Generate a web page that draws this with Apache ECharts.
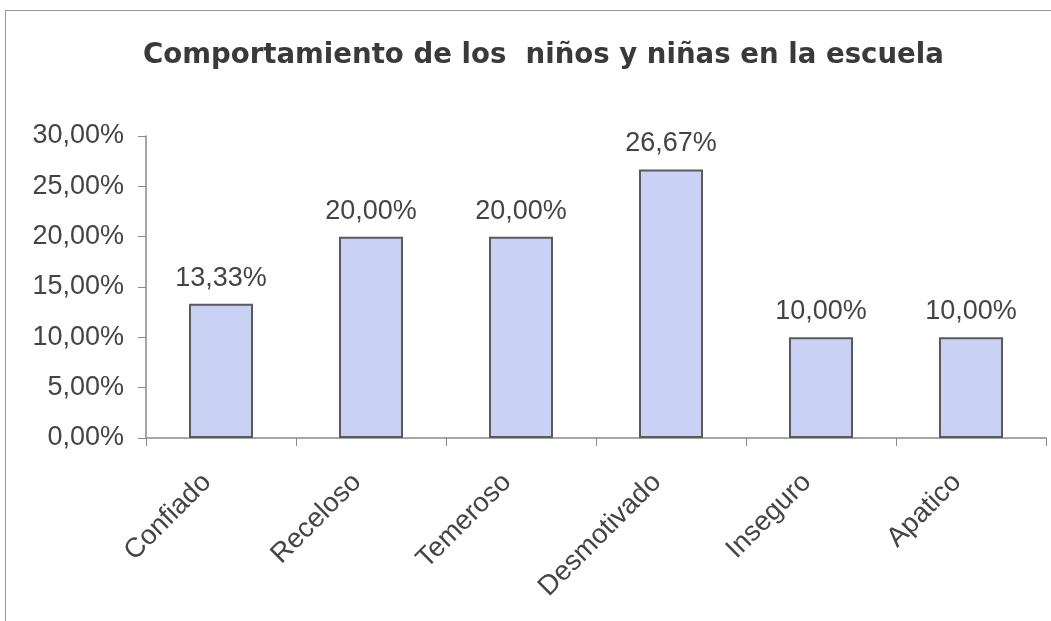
<!DOCTYPE html>
<html>
<head>
<meta charset="utf-8">
<script src="https://cdn.jsdelivr.net/npm/echarts@6/dist/echarts.min.js"></script>
<style>
  html, body { margin: 0; padding: 0; background: #fff; }
  #frame { position: absolute; left: 5px; top: 10px; width: 1100px; height: 700px; border: 1px solid #9a9a9a; }
  #chart { position: absolute; left: 0; top: 0; width: 1051px; height: 621px; }
</style>
</head>
<body>
<div id="frame"></div>
<div id="chart"></div>
<script>
// categorias y porcentajes
const categorias = ['Confiado', 'Receloso', 'Temeroso', 'Desmotivado', 'Inseguro', 'Apatico']
const porcentajes = [13.33, 20.0, 20.0, 26.67, 10.0, 10.0]

const fmt = (v) => v.toFixed(2).replace('.', ',') + '%'

const myChart = echarts.init(document.getElementById('chart'))

const options = {
  animation: false,
  title: {
    text: 'Comportamiento de los  niños y niñas en la escuela',
    left: 138,
    top: 37,
    textStyle: {
      fontFamily: 'DejaVu Sans',
      fontSize: 27.6,
      fontWeight: 'bold',
      color: '#3a3a3a',
    },
  },
  grid: {
    left: 146,
    right: 5,
    top: 136,
    bottom: 183,
  },
  xAxis: {
    type: 'category',
    data: categorias,
    axisLine: { lineStyle: { color: '#8a8a8a', width: 1.5 } },
    axisTick: { show: true, length: 8, lineStyle: { color: '#8a8a8a' } },
    axisLabel: {
      rotate: 45,
      margin: 26,
      padding: [0, 20, 0, 0],
      fontFamily: 'Liberation Sans',
      fontSize: 27.5,
      color: '#444',
    },
  },
  yAxis: {
    type: 'value',
    min: 0,
    max: 30,
    interval: 5,
    axisLine: { show: true, lineStyle: { color: '#8a8a8a', width: 1.5 } },
    axisTick: { show: true, length: 8, lineStyle: { color: '#8a8a8a' } },
    splitLine: { show: false },
    axisLabel: {
      margin: 22,
      fontFamily: 'Liberation Sans',
      fontSize: 27,
      color: '#444',
      formatter: fmt,
    },
  },
  series: [
    {
      type: 'bar',
      data: porcentajes,
      barWidth: 64,
      itemStyle: {
        color: '#c9d2f4',
        borderColor: '#5a5a5a',
        borderWidth: 2,
      },
      label: {
        show: true,
        position: 'top',
        distance: 12,
        fontFamily: 'Liberation Sans',
        fontSize: 27,
        color: '#444',
        formatter: (p) => fmt(p.value),
      },
    },
  ],
}

myChart.setOption(options)
</script>
</body>
</html>
